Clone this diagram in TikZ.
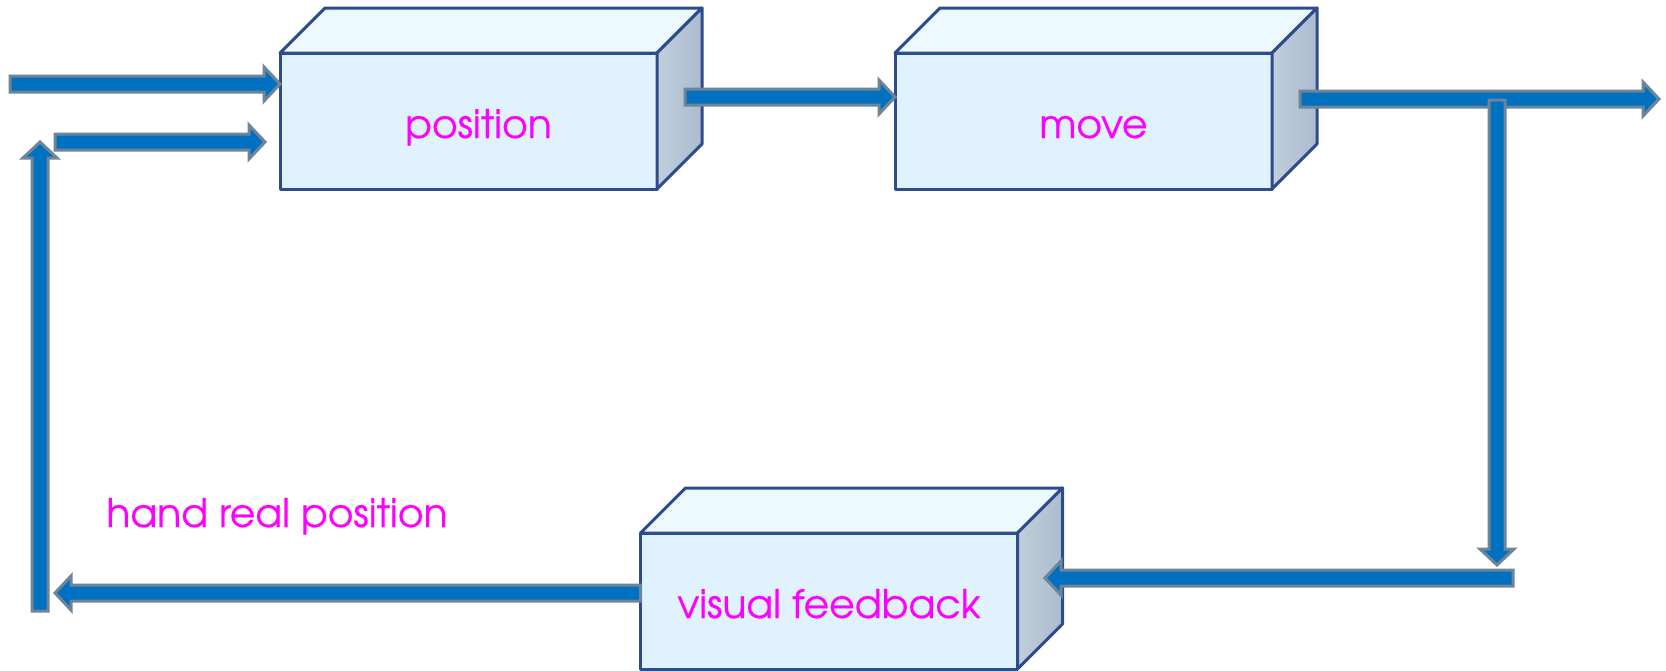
\documentclass[tikz,border=0pt]{standalone}
\usepackage{fontspec}
\setmainfont{TeX Gyre Adventor}[FakeBold=0.4]
\usetikzlibrary{calc}

\definecolor{arrowblue}{RGB}{0,112,192}
\definecolor{arrowgray}{RGB}{110,132,152}
\definecolor{boxedge}{RGB}{46,76,140}
\definecolor{frontc}{RGB}{223,242,253}
\definecolor{topc}{RGB}{236,250,255}
\definecolor{sidel}{RGB}{192,206,220}
\definecolor{sider}{RGB}{170,188,206}
\definecolor{labelmag}{RGB}{255,0,255}

% half shaft width, half head width, head length (pt)
\newcommand{\shafthw}{2.4}
\newcommand{\headhw}{5.1}
\newcommand{\headlen}{4.8}

\begin{document}
\begin{tikzpicture}[x=0.3pt, y=-0.3pt,
    box/.style={draw=boxedge, line width=0.9pt, line join=round, fill=frontc, minimum width=113.1pt, minimum height=40.8pt, outer sep=0pt, text=labelmag, font=\fontsize{11.8pt}{14pt}\selectfont, text height=10.2pt, text depth=0pt},
    topface/.style={draw=boxedge, line width=0.9pt, line join=round, fill=topc},
    sideface/.style={draw=boxedge, line width=0.9pt, line join=round, left color=sidel, right color=sider},
    barrow/.style={fill=arrowblue, draw=arrowgray, line width=0.9pt, line join=miter},
    lbl/.style={text=labelmag, font=\fontsize{11.8pt}{14pt}\selectfont, inner sep=0pt}
]
\useasboundingbox (0,0) rectangle (1666,671);

\node[box] (pos) at (468.5,121) {\hspace*{6pt}position};
\node[box] (mov) at (1083.5,121) {\hspace*{6pt}move};
\node[box] (vis) at (829,601) {visual feedback};
\foreach \b in {pos,mov,vis} {
  \draw[topface] (\b.north west) -- ++(45,-45) -- ([shift={(45,-45)}]\b.north east) -- (\b.north east) -- cycle;
  \draw[sideface] (\b.north east) -- ++(45,-45) -- ([shift={(45,-45)}]\b.south east) -- (\b.south east) -- cycle;
}

\node[lbl, anchor=base] (hrp) at (277,527) {hand real position};

% arrow ends
\coordinate (in1s) at (10,84);
\coordinate (in1e) at (pos.west |- in1s);
\coordinate (in2s) at (55,142);
\coordinate (in2e) at (265,142);
\coordinate (fbs) at (40,611);
\coordinate (fbe) at (40,142);
\coordinate (pms) at (685,97);
\coordinate (pme) at (mov.west |- pms);
\coordinate (outs) at (1300,99);
\coordinate (oute) at (1659,99);
\coordinate (dns) at (1497,100);
\coordinate (dne) at (1497,565);
\coordinate (bks) at (1513,578);
\coordinate (bke) at (1045,578);
\coordinate (vbe) at (55,593);
\coordinate (vbs) at (vis.west |- vbe);

\foreach \s/\e in {in1s/in1e, in2s/in2e, fbs/fbe, pms/pme, outs/oute, dns/dne, bks/bke, vbs/vbe}
  \draw[barrow] let \p1=(\s), \p2=(\e), \n1={veclen(\x2-\x1,\y2-\y1)},
      \n2={(\x2-\x1)/\n1}, \n3={(\y2-\y1)/\n1} in
    ({\x1-\shafthw*\n3},{\y1+\shafthw*\n2})
    -- ({\x2-\headlen*\n2-\shafthw*\n3},{\y2-\headlen*\n3+\shafthw*\n2})
    -- ({\x2-\headlen*\n2-\headhw*\n3},{\y2-\headlen*\n3+\headhw*\n2})
    -- (\p2)
    -- ({\x2-\headlen*\n2+\headhw*\n3},{\y2-\headlen*\n3-\headhw*\n2})
    -- ({\x2-\headlen*\n2+\shafthw*\n3},{\y2-\headlen*\n3-\shafthw*\n2})
    -- ({\x1+\shafthw*\n3},{\y1-\shafthw*\n2}) -- cycle;
\end{tikzpicture}
\end{document}
